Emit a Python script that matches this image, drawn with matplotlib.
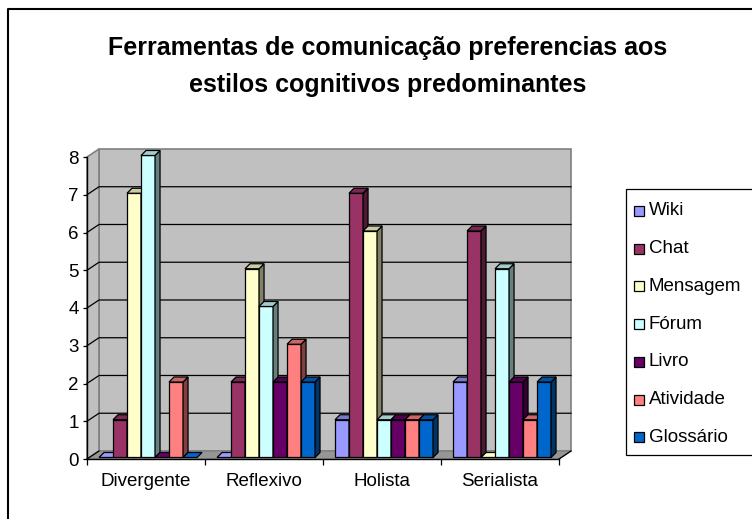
import numpy as np
import matplotlib
matplotlib.use("Agg")
import matplotlib.pyplot as plt
from matplotlib.patches import Polygon, Rectangle
from matplotlib.lines import Line2D
from matplotlib.colors import to_rgb

plt.rcParams['font.family'] = ['Liberation Sans', 'DejaVu Sans']

title_lines = ["Ferramentas de comunicação preferencias aos",
               "estilos cognitivos predominantes"]
categories = ["Divergente", "Reflexivo", "Holista", "Serialista"]
series = ["Wiki", "Chat", "Mensagem", "Fórum", "Livro", "Atividade", "Glossário"]
colors = ["#9999ff", "#993366", "#ffffcc", "#ccffff", "#660066", "#ff8080", "#0066cc"]
wiki = [0, 0, 1, 2]
chat = [1, 2, 7, 6]
mensagem = [7, 5, 6, 0]
forum = [8, 4, 1, 5]
livro = [0, 2, 1, 2]
atividade = [2, 3, 1, 1]
glossario = [0, 2, 1, 2]
values = [wiki, chat, mensagem, forum, livro, atividade, glossario]
yticks = list(range(0, 9))

W, H = 752, 519


def fx(px):
    return px / W


def fy(py):
    return 1 - py / H


def shade(c, k):
    r, g, b = to_rgb(c)
    return (r * k, g * k, b * k)


fig = plt.figure(figsize=(W / 100, H / 100), dpi=100)
fig.patch.set_facecolor('white')

# outer chart border (only left and top show inside the picture)
fig.add_artist(Line2D([fx(8), fx(8), fx(770)], [fy(540), fy(9), fy(9)],
                      transform=fig.transFigure, color='black', lw=1.5))

# title
fig.text(fx(388), fy(48), title_lines[0], ha='center', va='center',
         fontsize=18, fontweight='bold')
fig.text(fx(388), fy(85), title_lines[1], ha='center', va='center',
         fontsize=18, fontweight='bold')

ncat = len(categories)
ymax = yticks[-1]
ax = fig.add_axes([fx(87), fy(459), 472 / W, 302 / H])
ax.set_xlim(0, ncat)
ax.set_ylim(0, ymax)
ax.patch.set_visible(False)

# depth of the 3d box, in data units
DX, DY = 12 / 118, 8 / 37.7

wall = '#c0c0c0'
ax.add_patch(Polygon([(DX, DY), (ncat + DX, DY), (ncat + DX, ymax + DY), (DX, ymax + DY)],
                     closed=True, fc=wall, ec='#808080', lw=1.2, clip_on=False, zorder=0))
ax.add_patch(Polygon([(0, 0), (DX, DY), (DX, ymax + DY), (0, ymax)],
                     closed=True, fc=wall, ec='#808080', lw=1.2, clip_on=False, zorder=0))
ax.add_patch(Polygon([(0, 0), (ncat, 0), (ncat + DX, DY), (DX, DY)],
                     closed=True, fc='#969696', ec='#808080', lw=1.0, clip_on=False, zorder=0.5))
for v in yticks[1:-1]:
    ax.plot([0, DX, ncat + DX], [v, v + DY, v + DY], color='black', lw=0.9,
            clip_on=False, zorder=0.6)
ax.plot([0, DX], [0, DY], color='black', lw=0.9, clip_on=False, zorder=0.6)
ax.plot([ncat, ncat + DX], [0, DY], color='black', lw=0.9, clip_on=False, zorder=0.6)

# bars
BW = 14 / 118
FX, FY = 2 / 118, 1.5 / 37.7
BDX, BDY = 5 / 118, 5 / 37.7
start = 0.085
z = 2
for j in range(ncat):
    for i, vals in enumerate(values):
        v = vals[j]
        c = colors[i]
        x0 = j + start + i * BW + FX
        y0 = FY
        top = [(x0, y0 + v), (x0 + BDX, y0 + v + BDY),
               (x0 + BW + BDX, y0 + v + BDY), (x0 + BW, y0 + v)]
        if v > 0:
            ax.add_patch(Rectangle((x0, y0), BW, v, fc=c, ec='black', lw=0.9,
                                   clip_on=False, zorder=z))
            side = [(x0 + BW, y0), (x0 + BW + BDX, y0 + BDY),
                    (x0 + BW + BDX, y0 + v + BDY), (x0 + BW, y0 + v)]
            ax.add_patch(Polygon(side, closed=True, fc=shade(c, 0.5), ec='black',
                                 lw=0.9, clip_on=False, zorder=z))
            ax.add_patch(Polygon(top, closed=True, fc=shade(c, 0.8), ec='black',
                                 lw=0.9, clip_on=False, zorder=z))
        else:
            ax.add_patch(Polygon(top, closed=True, fc=c, ec='black',
                                 lw=0.9, clip_on=False, zorder=z))
        z += 0.01

# axes
for s in ['top', 'right']:
    ax.spines[s].set_visible(False)
ax.spines['left'].set_linewidth(1.0)
ax.spines['bottom'].set_linewidth(1.0)
ax.spines['left'].set_zorder(1)
ax.spines['bottom'].set_zorder(1)
ax.set_yticks(yticks)
ax.tick_params(axis='y', direction='out', length=3, width=0.9, pad=3, labelsize=13.5)
ax.set_xticks(range(ncat + 1))
ax.set_xticklabels([])
ax.tick_params(axis='x', which='major', direction='out', length=4, width=0.9)
ax.set_xticks([j + 0.5 for j in range(ncat)], minor=True)
ax.set_xticklabels(categories, minor=True)
ax.tick_params(axis='x', which='minor', length=0, pad=10, labelsize=13.5)

# legend
fig.add_artist(Rectangle((fx(626), fy(455)), fx(780) - fx(626), fy(189) - fy(455),
                         transform=fig.transFigure, fc='white', ec='black', lw=0.9))
for k, name in enumerate(series):
    yc = 211 + k * 37.7
    fig.add_artist(Rectangle((fx(634), fy(yc + 5)), 10 / W, 10 / H,
                             transform=fig.transFigure, fc=colors[k], ec='black', lw=0.9))
    fig.text(fx(649), fy(yc), name, ha='left', va='center', fontsize=13.5)

fig.savefig("out.png", dpi=100)
